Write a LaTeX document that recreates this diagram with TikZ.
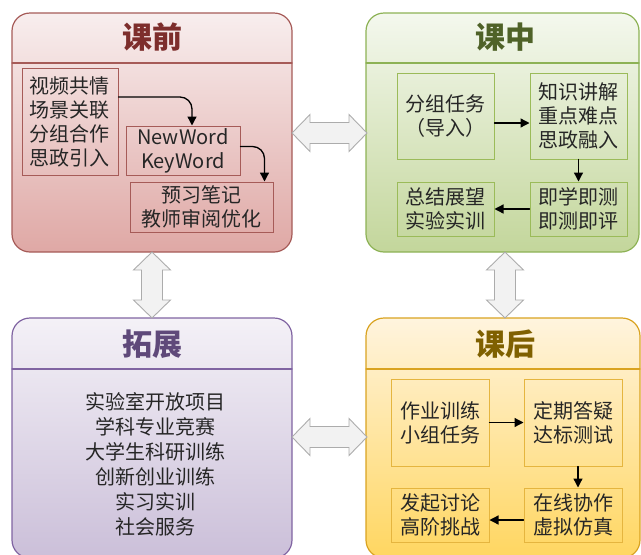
\documentclass[tikz,border=0pt]{standalone}
\usepackage{fontspec}
\newfontfamily\cjk{Noto Sans CJK SC}
\usetikzlibrary{arrows.meta}

\definecolor{preline}{HTML}{A65B58}
\definecolor{pretop}{HTML}{F8EEEE}
\definecolor{prebot}{HTML}{DFA8A5}
\definecolor{pretitle}{HTML}{7D2E2C}
\definecolor{inline}{HTML}{8DB255}
\definecolor{intop}{HTML}{F4F8EE}
\definecolor{inbot}{HTML}{C3D69B}
\definecolor{inbox}{HTML}{9BBB59}
\definecolor{intitle}{HTML}{4F6228}
\definecolor{extline}{HTML}{8064A2}
\definecolor{exttop}{HTML}{F4F1F7}
\definecolor{extbot}{HTML}{CBBFD9}
\definecolor{exttitle}{HTML}{5F497A}
\definecolor{postline}{HTML}{D9A321}
\definecolor{posttop}{HTML}{FFF4DE}
\definecolor{postbot}{HTML}{FFD660}
\definecolor{postbox}{HTML}{E5B53F}
\definecolor{posttitle}{HTML}{7F6000}

\def\hl{18}
\def\hw{18.5}
\def\sw{10.5}
% x1, x2, y
\newcommand{\harrow}[3]{%
  \draw[bigarrow] (#1,#3) -- (#1+\hl,#3-\hw) -- (#1+\hl,#3-\sw) -- (#2-\hl,#3-\sw)
    -- (#2-\hl,#3-\hw) -- (#2,#3) -- (#2-\hl,#3+\hw) -- (#2-\hl,#3+\sw)
    -- (#1+\hl,#3+\sw) -- (#1+\hl,#3+\hw) -- cycle;}
% x, y1, y2
\newcommand{\varrow}[3]{%
  \draw[bigarrow] (#1,#2) -- (#1+\hw,#2+\hl) -- (#1+\sw,#2+\hl) -- (#1+\sw,#3-\hl)
    -- (#1+\hw,#3-\hl) -- (#1,#3) -- (#1-\hw,#3-\hl) -- (#1-\sw,#3-\hl)
    -- (#1-\sw,#2+\hl) -- (#1-\hw,#2+\hl) -- cycle;}

\begin{document}
\begin{tikzpicture}[x=1pt, y=-1pt, line cap=round,
    >={Triangle[length=9pt,width=9pt]},
    panel/.style={line width=1.2pt, rounded corners=18},
    title/.style={font=\cjk\bfseries\fontsize{30}{30}\selectfont},
    box/.style={draw, line width=1pt, align=center, inner sep=0pt,
                font=\cjk\fontsize{20}{24}\selectfont, text=black!85},
    flow/.style={->, line width=1.3pt, black},
    bigarrow/.style={draw=gray!65, fill=gray!10, line width=0.9pt, line join=miter}
  ]
\useasboundingbox (0,0) rectangle (641,555);
\clip (0,0) rectangle (641,555);

% before class
\draw[panel, draw=preline, top color=pretop, bottom color=prebot] (12,13) rectangle (292,252);
\draw[preline, line width=1.2pt] (12,63) -- (292,63);
\node[title, text=pretitle] (pre) at (152,37) {课前};
\node[box, draw=preline, minimum width=96, minimum height=107] (a1) at (70,121.5)
  {视频共情\\场景关联\\分组合作\\思政引入};
\node[box, draw=preline, minimum width=114, minimum height=49] (b1) at (183,150.5)
  {NewWord\\KeyWord};
\node[box, draw=preline, minimum width=143, minimum height=50] (c1) at (201.5,207)
  {预习笔记\\教师审阅优化};
\draw[flow, rounded corners=12] ([yshift=24.5pt]a1.east) -| ([xshift=9pt]b1.north);
\draw[flow, rounded corners=12] ([yshift=4pt]b1.east) -| ([xshift=-9pt]c1.north east);

% in class
\draw[panel, draw=inline, top color=intop, bottom color=inbot] (366,13) rectangle (639,252);
\draw[inline, line width=1.2pt] (366,63) -- (639,63);
\node[title, text=intitle] (in) at (505,37) {课中};
\node[box, draw=inbox, minimum width=97, minimum height=86] (g1) at (445.5,116)
  {分组任务\\（导入）};
\node[box, draw=inbox, minimum width=97, minimum height=86] (g2) at (578.5,116)
  {知识讲解\\重点难点\\思政融入};
\node[box, draw=inbox, minimum width=97, minimum height=54] (g3) at (578.5,209)
  {即学即测\\即测即评};
\node[box, draw=inbox, minimum width=97, minimum height=54] (g4) at (445.5,209)
  {总结展望\\实验实训};
\draw[flow] ([yshift=-7pt]g1.east) -- ([yshift=-7pt]g2.west);
\draw[flow] (g2) -- (g3);
\draw[flow] (g3) -- (g4);

% extension
\draw[panel, draw=extline, top color=exttop, bottom color=extbot] (12,318) rectangle (292,558);
\draw[extline, line width=1.2pt] (12,369) -- (292,369);
\node[title, text=exttitle] (ext) at (152,344) {拓展};
\node[align=center, font=\cjk\fontsize{20}{25}\selectfont, text=black!85] (items) at (155,464.5)
  {实验室开放项目\\学科专业竞赛\\大学生科研训练\\创新创业训练\\实习实训\\社会服务};

% after class
\draw[panel, draw=postline, top color=posttop, bottom color=postbot] (366,318) rectangle (640,558);
\draw[postline, line width=1.2pt] (366,369) -- (640,369);
\node[title, text=posttitle] (post) at (505,344) {课后};
\node[box, draw=postbox, minimum width=98, minimum height=87] (y1) at (440,422.5)
  {作业训练\\小组任务};
\node[box, draw=postbox, minimum width=98, minimum height=87] (y2) at (573,422.5)
  {定期答疑\\达标测试};
\node[box, draw=postbox, minimum width=98, minimum height=54] (y3) at (573,515)
  {在线协作\\虚拟仿真};
\node[box, draw=postbox, minimum width=98, minimum height=54] (y4) at (440,515)
  {发起讨论\\高阶挑战};
\draw[flow] (y1) -- (y2);
\draw[flow] ([xshift=5pt]y2.south) -- ([xshift=5pt]y3.north);
\draw[flow] ([yshift=-5pt]y3.west) -- ([yshift=-5pt]y4.east);

% links between the four parts
\harrow{292}{367}{133}
\harrow{292}{367}{437}
\varrow{152}{252}{318}
\varrow{505}{252}{318}
\end{tikzpicture}
\end{document}
